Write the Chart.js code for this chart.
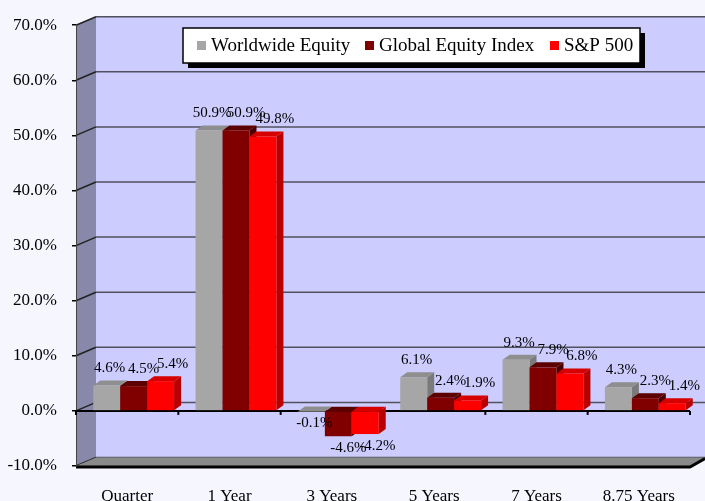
<!DOCTYPE html>
<html>
<head>
<meta charset="utf-8">
<script src="https://cdn.jsdelivr.net/npm/chart.js@4.4.0/dist/chart.umd.min.js"></script>
<style>
html, body { margin: 0; padding: 0; background: #f6f6ff; }
#wrap { width: 705px; height: 501px; position: relative; }
</style>
</head>
<body>
<div id="wrap"><canvas id="myChart"></canvas></div>
<script>
// chart data
var categories = ['Quarter', '1 Year', '3 Years', '5 Years', '7 Years', '8.75 Years'];
var seriesNames = ['Worldwide Equity', 'Global Equity Index', 'S&P 500'];
var worldwideEquity = [4.6, 50.9, -0.1, 6.1, 9.3, 4.3];
var globalEquityIndex = [4.5, 50.9, -4.6, 2.4, 7.9, 2.3];
var sp500 = [5.4, 49.8, -4.2, 1.9, 6.8, 1.4];
var yMin = -10, yMax = 70, yStep = 10;

// colours for the faces of each series
var frontColors = ['#a6a6a6', '#800000', '#ff0000'];
var topColors = ['#8e8e8e', '#5c0000', '#d60000'];
var sideColors = ['#7a7a7a', '#4a0000', '#b80000'];

// fake 3d depth
var WALL_DX = 20, WALL_DY = -8.5;
var BAR_DX = 7, BAR_DY = -5, BAR_SHIFT = 6.5;
var labelDx = [3, 10, 12];

var serif = '"Liberation Serif", "Times New Roman", serif';

function drawBar(ctx, x0, x1, yTop, yBot, i)
{
  ctx.fillStyle = sideColors[i];
  ctx.beginPath();
  ctx.moveTo(x1, yTop);
  ctx.lineTo(x1 + BAR_DX, yTop + BAR_DY);
  ctx.lineTo(x1 + BAR_DX, yBot + BAR_DY);
  ctx.lineTo(x1, yBot);
  ctx.closePath();
  ctx.fill();

  ctx.fillStyle = topColors[i];
  ctx.beginPath();
  ctx.moveTo(x0, yTop);
  ctx.lineTo(x0 + BAR_DX, yTop + BAR_DY);
  ctx.lineTo(x1 + BAR_DX, yTop + BAR_DY);
  ctx.lineTo(x1, yTop);
  ctx.closePath();
  ctx.fill();

  ctx.fillStyle = frontColors[i];
  ctx.fillRect(x0, yTop, x1 - x0, yBot - yTop);
}

var wallsPlugin = {
  id: 'walls',
  beforeDraw: function(chart) {
    var ctx = chart.ctx, a = chart.chartArea, y = chart.scales.y;
    var L = a.left, R = a.right, T = a.top, B = a.bottom;
    var W = chart.width;
    ctx.save();

    // back wall
    ctx.fillStyle = '#ccccff';
    ctx.fillRect(L + WALL_DX, T + WALL_DY, W - L - WALL_DX, B - T);

    // left wall
    ctx.fillStyle = '#8888aa';
    ctx.beginPath();
    ctx.moveTo(L, T);
    ctx.lineTo(L + WALL_DX, T + WALL_DY);
    ctx.lineTo(L + WALL_DX, B + WALL_DY);
    ctx.lineTo(L, B);
    ctx.closePath();
    ctx.fill();

    // gridlines on walls
    ctx.lineWidth = 1.5;
    for (var v = yMin; v <= yMax; v += yStep) {
      var py = y.getPixelForValue(v);
      ctx.strokeStyle = '#50505e';
      ctx.beginPath();
      ctx.moveTo(L + WALL_DX, py + WALL_DY);
      ctx.lineTo(W, py + WALL_DY);
      ctx.stroke();
      ctx.strokeStyle = '#222';
      ctx.beginPath();
      ctx.moveTo(L, py);
      ctx.lineTo(L + WALL_DX, py + WALL_DY);
      ctx.stroke();
    }

    // floor
    ctx.fillStyle = '#8a8a8a';
    ctx.beginPath();
    ctx.moveTo(L, B);
    ctx.lineTo(L + WALL_DX, B + WALL_DY);
    ctx.lineTo(W, B + WALL_DY);
    ctx.lineTo(R, B);
    ctx.closePath();
    ctx.fill();
    ctx.strokeStyle = '#000';
    ctx.lineWidth = 3;
    ctx.beginPath();
    ctx.moveTo(L, B + 1);
    ctx.lineTo(R, B + 1);
    ctx.lineTo(W, B + WALL_DY + 1);
    ctx.stroke();
    ctx.restore();
  },
  beforeDatasetsDraw: function(chart) {
    var ctx = chart.ctx, a = chart.chartArea, y = chart.scales.y, x = chart.scales.x;
    var zero = y.getPixelForValue(0);
    ctx.save();

    // category axis at zero
    ctx.strokeStyle = '#000';
    ctx.lineWidth = 2;
    ctx.beginPath();
    ctx.moveTo(a.left, zero);
    ctx.lineTo(a.right, zero);
    ctx.stroke();
    ctx.lineWidth = 2;
    for (var k = 0; k <= categories.length; k++) {
      var tx = a.left + k * (a.right - a.left) / categories.length;
      ctx.beginPath();
      ctx.moveTo(tx, zero);
      ctx.lineTo(tx, zero + 4);
      ctx.stroke();
    }

    // bars, category by category so the faces overlap properly
    var metas = [0, 1, 2].map(function(d) { return chart.getDatasetMeta(d); });
    for (var i = 0; i < categories.length; i++) {
      for (var d = 0; d < 3; d++) {
        var p = metas[d].data[i].getProps(['x', 'y', 'base', 'width'], true);
        var x0 = p.x - p.width / 2 + BAR_SHIFT, x1 = p.x + p.width / 2 + BAR_SHIFT;
        drawBar(ctx, x0, x1, Math.min(p.y, p.base), Math.max(p.y, p.base), d);
      }
    }

    // data labels
    ctx.fillStyle = '#000';
    ctx.font = '15px ' + serif;
    ctx.textAlign = 'center';
    ctx.textBaseline = 'middle';
    for (var i2 = 0; i2 < categories.length; i2++) {
      for (var d2 = 0; d2 < 3; d2++) {
        var val = chart.data.datasets[d2].data[i2];
        var q = metas[d2].data[i2].getProps(['x', 'y', 'base'], true);
        var lx = q.x + BAR_SHIFT + labelDx[d2];
        var ly = val >= 0 ? q.y - 17 : q.y + 12;
        ctx.fillText(val.toFixed(1) + '%', lx, ly);
      }
    }
    ctx.restore();
    return false;
  },
  afterDraw: function(chart) {
    var ctx = chart.ctx;
    ctx.save();
    // legend box with shadow
    ctx.fillStyle = '#000';
    ctx.fillRect(188, 33, 457, 35);
    ctx.fillStyle = '#fff';
    ctx.fillRect(183, 28, 457, 35);
    ctx.strokeStyle = '#000';
    ctx.lineWidth = 1.5;
    ctx.strokeRect(183, 28, 457, 35);

    var sq = [197, 365, 550];
    ctx.font = '19px ' + serif;
    ctx.textBaseline = 'middle';
    ctx.textAlign = 'left';
    for (var d = 0; d < 3; d++) {
      ctx.fillStyle = frontColors[d];
      ctx.fillRect(sq[d], 41, 9, 9);
      ctx.fillStyle = '#000';
      ctx.fillText(chart.data.datasets[d].label, sq[d] + 14, 46.5);
    }
    ctx.restore();
  }
};

var ctx = document.getElementById('myChart').getContext('2d');
var myChart = new Chart(ctx, {
  type: 'bar',
  data: {
    labels: categories,
    datasets: [
      { label: seriesNames[0], data: worldwideEquity, backgroundColor: frontColors[0] },
      { label: seriesNames[1], data: globalEquityIndex, backgroundColor: frontColors[1] },
      { label: seriesNames[2], data: sp500, backgroundColor: frontColors[2] }
    ]
  },
  options: {
    responsive: true,
    maintainAspectRatio: false,
    animation: false,
    devicePixelRatio: 1,
    layout: { padding: { top: 20.5, right: 15, left: 0, bottom: 0 } },
    categoryPercentage: 0.79,
    barPercentage: 1,
    plugins: {
      legend: { display: false },
      tooltip: { enabled: false }
    },
    scales: {
      x: {
        grid: { display: false, drawTicks: false },
        border: { display: false },
        ticks: { color: '#000', font: { family: serif, size: 17 }, padding: 20, maxRotation: 0 },
        afterFit: function(scale) { scale.height = 35; }
      },
      y: {
        min: yMin,
        max: yMax,
        ticks: {
          stepSize: yStep,
          color: '#000',
          font: { family: serif, size: 17 },
          padding: 15,
          callback: function(v) { return v.toFixed(1) + '%'; }
        },
        grid: { drawOnChartArea: false, drawTicks: true, tickLength: 4, color: '#000', lineWidth: 1.5 },
        border: { display: true, color: '#444', width: 1 },
        afterFit: function(scale) { scale.width = 76; }
      }
    }
  },
  plugins: [wallsPlugin]
});
</script>
</body>
</html>
